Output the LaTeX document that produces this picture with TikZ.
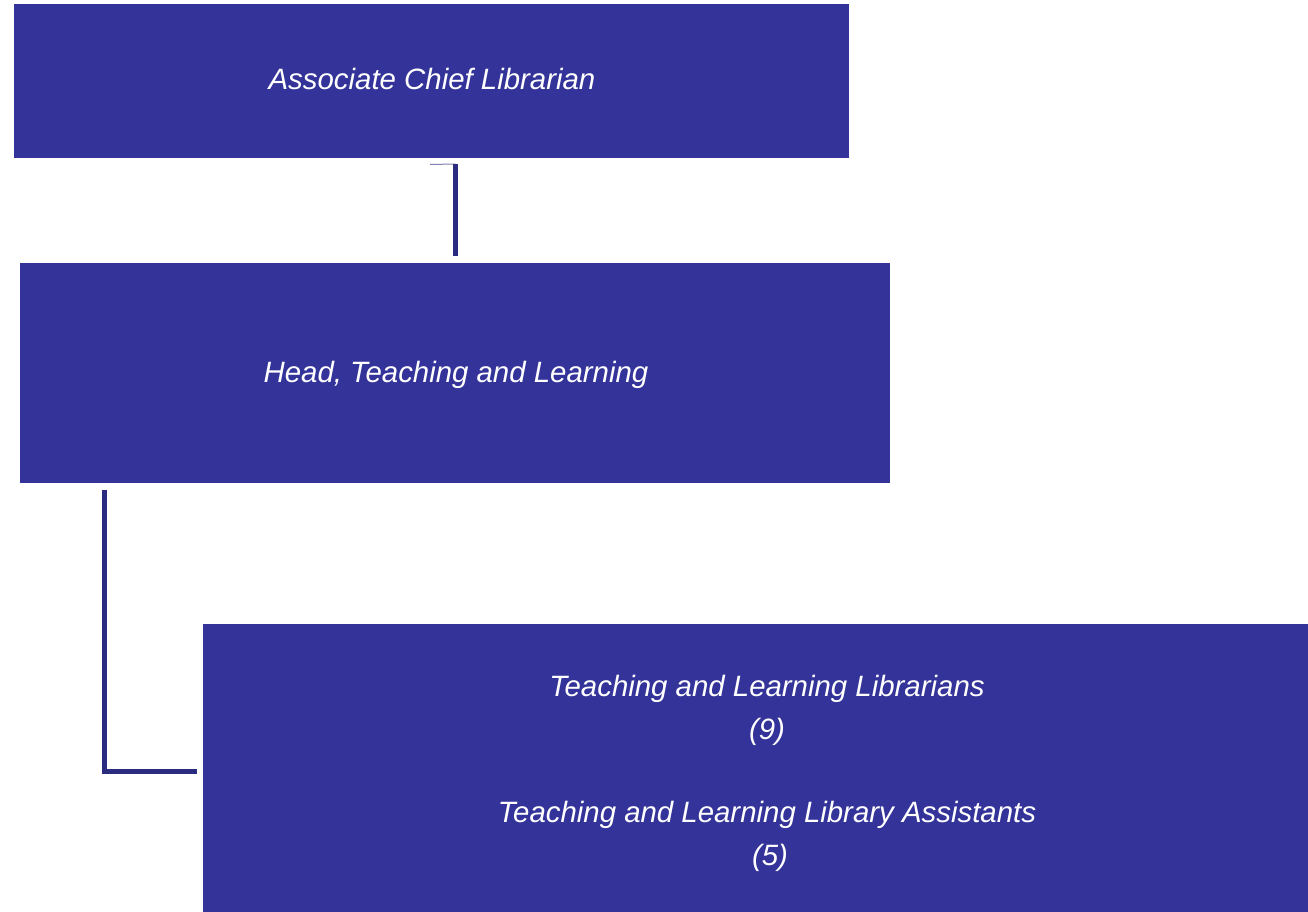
\documentclass[tikz,border=0pt]{standalone}
\usepackage{fontspec}
\setmainfont{Liberation Sans}
\definecolor{boxblue}{HTML}{333399}
\definecolor{linkblue}{HTML}{2B2B80}
\begin{document}
\begin{tikzpicture}[x=1pt,y=-1pt,
  orgbox/.style={fill=boxblue,draw=none,inner sep=0pt},
  lbl/.style={text=white,font=\itshape\fontsize{29.4}{34}\selectfont,inner sep=0pt,anchor=base},
  link/.style={draw=linkblue,line width=5pt}]
\useasboundingbox (0,0) rectangle (1308,912);
\fill[white] (0,0) rectangle (1308,912);
\node[orgbox,minimum width=835pt,minimum height=154pt,anchor=north west] (acl) at (14,4) {};
\node[orgbox,minimum width=870pt,minimum height=220pt,anchor=north west] (head) at (20,263) {};
\node[orgbox,minimum width=1105pt,minimum height=288pt,anchor=north west] (team) at (203,624) {};
\node[lbl] (t1) at (432,90) {Associate Chief Librarian};
\node[lbl] (t2) at (456,382) {Head, Teaching and Learning};
\node[lbl] (t3) at (767,696) {Teaching and Learning Librarians};
\node[lbl] (t4) at (767,739) {(9)};
\node[lbl] (t5) at (767,822) {Teaching and Learning Library Assistants};
\node[lbl] (t6) at (770,865) {(5)};
\coordinate (c1) at (455.5,164);
\coordinate (c2) at (455.5,256);
\coordinate (c3) at (430,164.5);
\coordinate (c4) at (104,490);
\coordinate (c5) at (104,771);
\coordinate (c6) at (197,771);
\draw[linkblue!60,line width=1pt] (c3) -- (c1);
\draw[link] (c1) -- (c2);
\draw[link] (c4) -- (c5) -- (c6);
\end{tikzpicture}
\end{document}
